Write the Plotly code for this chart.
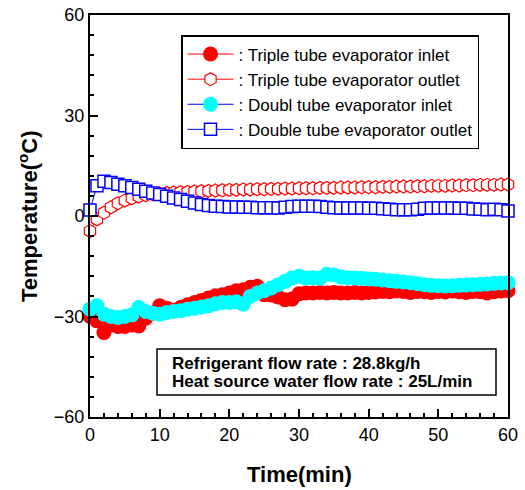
import plotly.graph_objects as go

time_min = list(range(61))

triple_inlet = [-30, -31.3, -34.8, -32.5, -33, -33, -32.5, -32.8, -30.5, -29,
                -26.8, -27.5, -28.2, -27.3, -26.5, -25.8, -25.2, -24.5, -23.8, -23.5,
                -23, -22.3, -22, -21.3, -21, -23.5, -23.6, -24.2, -25, -24.8,
                -23.2, -23, -23, -22.8, -23, -22.8, -23, -23, -22.8, -23,
                -22.8, -22.7, -22.5, -22.6, -22.4, -22.5, -22.8, -22.5, -22.6, -22.8,
                -22.5, -22.7, -22.4, -22.6, -22.8, -22.5, -22.6, -23, -22.6, -22.4, -22.3]

triple_outlet = [-4.5, -1.0, 1.0, 2.6, 3.8, 4.6, 5.3, 5.8, 6.2, 6.5,
                 6.7, 6.9, 7.0, 7.1, 7.2, 7.3, 7.4, 7.5, 7.6, 7.7,
                 7.8, 7.8, 7.9, 7.9, 8.0, 8.0, 8.1, 8.1, 8.2, 8.2,
                 8.3, 8.3, 8.3, 8.4, 8.4, 8.4, 8.5, 8.5, 8.5, 8.6,
                 8.6, 8.6, 8.7, 8.7, 8.8, 8.8, 8.8, 8.9, 8.9, 9.0,
                 9.0, 9.0, 9.1, 9.1, 9.2, 9.2, 9.3, 9.3, 9.3, 9.4, 9.4]

double_inlet = [-27.8, -26.8, -29.3, -30, -30.3, -30, -29.5, -27.3, -28.5, -29,
                -29.3, -28.8, -28.5, -28.3, -27.8, -27.5, -27.2, -26.8, -26.2, -25.8,
                -25.8, -25.6, -26.3, -24, -23, -22.3, -21.5, -20.5, -19.5, -18.5,
                -18, -18.5, -18.4, -18.6, -17.4, -17.6, -18.2, -18.4, -18.5, -18.6,
                -18.8, -18.9, -19.1, -19.3, -19.5, -19.7, -19.9, -20.2, -20.5, -20.7,
                -20.8, -20.9, -20.8, -20.7, -20.6, -20.5, -20.4, -20.3, -20.1, -20, -19.9]

double_outlet = [1.8, 9.0, 10.4, 10.0, 9.5, 9.0, 8.5, 8.0, 7.4, 6.9,
                 6.4, 5.9, 5.4, 4.9, 4.4, 3.9, 3.4, 3.1, 2.9, 2.8,
                 2.7, 2.7, 2.6, 2.6, 2.5, 2.5, 2.5, 2.4, 2.6, 2.8,
                 2.9, 2.9, 2.9, 2.8, 2.6, 2.5, 2.4, 2.4, 2.4, 2.4,
                 2.3, 2.3, 2.2, 2.0, 1.9, 1.9, 1.9, 2.0, 2.3, 2.4,
                 2.4, 2.4, 2.4, 2.3, 2.3, 2.1, 2.0, 1.9, 2.0, 1.9, 1.5]

series_names = [": Triple tube evaporator inlet", ": Triple tube evaporator outlet",
                ": Doubl tube evaporator inlet", ": Double tube evaporator outlet"]

FONT = "Arial, Liberation Sans, sans-serif"

W, H = 525, 490
# plot area in reference pixels
L, R, T, B = 90, 508, 15, 417
PW, PH = R - L, B - T

def px(x):
    return (x - L) / PW

def py(y):
    return (B - y) / PH

fig = go.Figure()
fig.add_trace(go.Scatter(x=time_min, y=triple_inlet, name=series_names[0], mode="lines+markers",
                         line=dict(color="#ff0000", width=1),
                         marker=dict(symbol="circle", size=15, color="#ff0000", line=dict(width=0)),
                         cliponaxis=False))
fig.add_trace(go.Scatter(x=time_min, y=triple_outlet, name=series_names[1], mode="lines+markers",
                         line=dict(color="#ff0000", width=1),
                         marker=dict(symbol="hexagon", size=13, color="white", line=dict(color="#ff0000", width=1.2)),
                         cliponaxis=False))
fig.add_trace(go.Scatter(x=time_min, y=double_inlet, name=series_names[2], mode="lines+markers",
                         line=dict(color="#0000ff", width=1),
                         marker=dict(symbol="circle", size=15, color="#00ffff", line=dict(width=0)),
                         cliponaxis=False))
fig.add_trace(go.Scatter(x=time_min, y=double_outlet, name=series_names[3], mode="lines+markers",
                         line=dict(color="#0000ff", width=1),
                         marker=dict(symbol="square", size=12, color="white", line=dict(color="#0000ff", width=1.5)),
                         cliponaxis=False))

fig.update_layout(
    width=W, height=H,
    margin=dict(l=L, r=W - R, t=T, b=H - B, autoexpand=False),
    paper_bgcolor="white", plot_bgcolor="white",
    font=dict(family=FONT, color="black", size=18),
    showlegend=True,
    legend=dict(x=px(181), y=py(35), xanchor="left", yanchor="top",
                bordercolor="black", borderwidth=1.5, bgcolor="white",
                font=dict(size=17, family=FONT), itemwidth=46),
    xaxis=dict(range=[0, 60], dtick=10, tick0=0, showgrid=False, zeroline=False,
               showline=True, linecolor="black", linewidth=2, mirror=True,
               ticks="inside", ticklen=8, tickwidth=2, tickcolor="black",
               minor=dict(dtick=2, ticks="inside", ticklen=4, tickwidth=1.5, tickcolor="black"),
               tickfont=dict(size=18), automargin=False, ticklabeloverflow="allow"),
    yaxis=dict(range=[-60, 60], dtick=30, tick0=0, showgrid=False, zeroline=False,
               showline=True, linecolor="black", linewidth=2, mirror=True,
               ticks="inside", ticklen=8, tickwidth=2, tickcolor="black",
               minor=dict(dtick=6, ticks="inside", ticklen=4, tickwidth=1.5, tickcolor="black"),
               tickfont=dict(size=18), automargin=False, ticklabeloverflow="allow"),
)

# axis titles
fig.add_annotation(xref="paper", yref="paper", x=0.5, y=py(475), xanchor="center", yanchor="middle",
                   showarrow=False, text="<b>Time(min)</b>", font=dict(size=22, family=FONT))
fig.add_annotation(xref="paper", yref="paper", x=px(28), y=py(216), xanchor="center", yanchor="middle",
                   showarrow=False, textangle=-90, text="<b>Temperature(<sup>o</sup>C)</b>",
                   font=dict(size=22, family=FONT))

# annotation box
fig.add_shape(type="rect", xref="paper", yref="paper",
              x0=px(157), x1=px(496), y0=py(395), y1=py(349),
              line=dict(color="black", width=1.5), fillcolor="white", layer="above")
fig.add_annotation(xref="paper", yref="paper", x=px(170), y=py(363),
                   xanchor="left", yanchor="middle", showarrow=False,
                   text="<b>Refrigerant flow rate : 28.8kg/h</b>", font=dict(size=17, family=FONT))
fig.add_annotation(xref="paper", yref="paper", x=px(170), y=py(381.5),
                   xanchor="left", yanchor="middle", showarrow=False,
                   text="<b>Heat source water flow rate : 25L/min</b>", font=dict(size=17, family=FONT))

# remove the default 8px page margin so the figure sits at the window's top-left corner
fig.write_html("out.html", config={"displayModeBar": False},
               post_script="document.body.style.margin='0';")
